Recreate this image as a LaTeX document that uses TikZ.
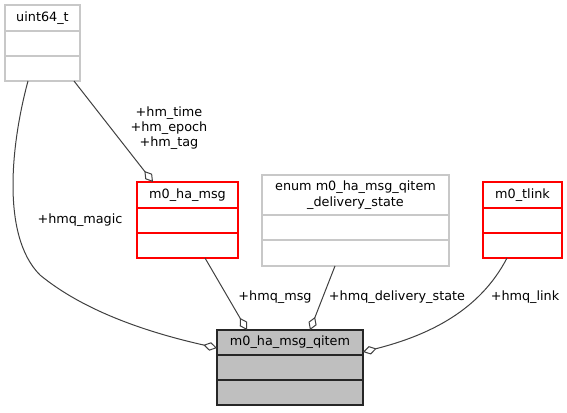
\documentclass[tikz,border=0pt]{standalone}
\usepackage{fontspec}
\setmainfont{DejaVu Sans}
\usetikzlibrary{arrows.meta}
\definecolor{edgec}{HTML}{404040}
\definecolor{boxgray}{HTML}{BFBFBF}
\definecolor{boxline}{HTML}{C8C8C8}
\begin{document}
\begin{tikzpicture}[x=0.75pt,y=-0.75pt,
  every node/.style={font=\fontsize{9.6}{11.5}\selectfont, inner sep=0pt, outer sep=0pt},
  graybox/.style={draw=boxline, line width=1.2pt, fill=white},
  redbox/.style={draw=red, line width=1.1pt, fill=white},
  mainbox/.style={draw=black!85, line width=1.1pt, fill=boxgray},
  conn/.style={draw=edgec, line width=0.75pt, -{Diamond[open, fill=white, length=10.5pt, width=6.5pt, line width=0.75pt]}},
  lbl/.style={text=black, align=center}
]
\useasboundingbox (0,0) rectangle (567,412);

% uint64_t
\draw[graybox] (5,5) rectangle (80,81);
\draw[boxline, line width=1.2pt] (5,31) -- (80,31) (5,56) -- (80,56);
\node (u) at (42.5,43) [minimum width=56.25pt, minimum height=57pt] {};
\node (ut) at (42.5,18.5) {uint64\_t};

% m0_ha_msg
\draw[redbox] (137,182) rectangle (238,258);
\draw[red, line width=1.1pt] (137,208) -- (238,208) (137,233) -- (238,233);
\node (hm) at (187.5,220) [minimum width=75.75pt, minimum height=57pt] {};
\node (hmt) at (187.5,195) {m0\_ha\_msg};

% enum
\draw[graybox] (262,175) rectangle (449,266);
\draw[boxline, line width=1.2pt] (262,215) -- (449,215) (262,240) -- (449,240);
\node (en) at (355.5,220.5) [minimum width=140.25pt, minimum height=68.25pt] {};
\node (ent) at (355.5,195) [align=center] {enum m0\_ha\_msg\_qitem\\\_delivery\_state};

% m0_tlink
\draw[redbox] (483,182) rectangle (562,258);
\draw[red, line width=1.1pt] (483,208) -- (562,208) (483,233) -- (562,233);
\node (tl) at (522.5,220) [minimum width=59.25pt, minimum height=57pt] {};
\node (tlt) at (522.5,195) {m0\_tlink};

% m0_ha_msg_qitem
\draw[mainbox] (217,330) rectangle (363,405);
\draw[black!85, line width=1.1pt] (217,355) -- (363,355) (217,380) -- (363,380);
\node (q) at (290,367.5) [minimum width=109.5pt, minimum height=56.25pt] {};
\node (qt) at (290,342.5) {m0\_ha\_msg\_qitem};

% connectors
\draw[conn] (u.south west) ++(23,0) .. controls (12,140) and (0,235) .. (40,275)
  .. controls (85,312) and (150,333) .. (q.west |- 0,348);
\draw[conn] (u.south east) ++(-6,0) -- (153,182);
\draw[conn] (hm.south) ++(17.5,0) -- (247,330);
\draw[conn] (en.south) ++(-20.5,0) -- (310,330);
\draw[conn] (tl.south) ++(-15.5,0) .. controls (480,310) and (430,335) .. (363,352);

% labels
\node[lbl] (l1) at (80,220) {+hmq\_magic};
\node[lbl] (l2) at (169,128) {+hm\_time\\+hm\_epoch\\+hm\_tag};
\node[lbl] (l3) at (275,297) {+hmq\_msg};
\node[lbl] (l4) at (397,297) {+hmq\_delivery\_state};
\node[lbl] (l5) at (525,297) {+hmq\_link};
\end{tikzpicture}
\end{document}
